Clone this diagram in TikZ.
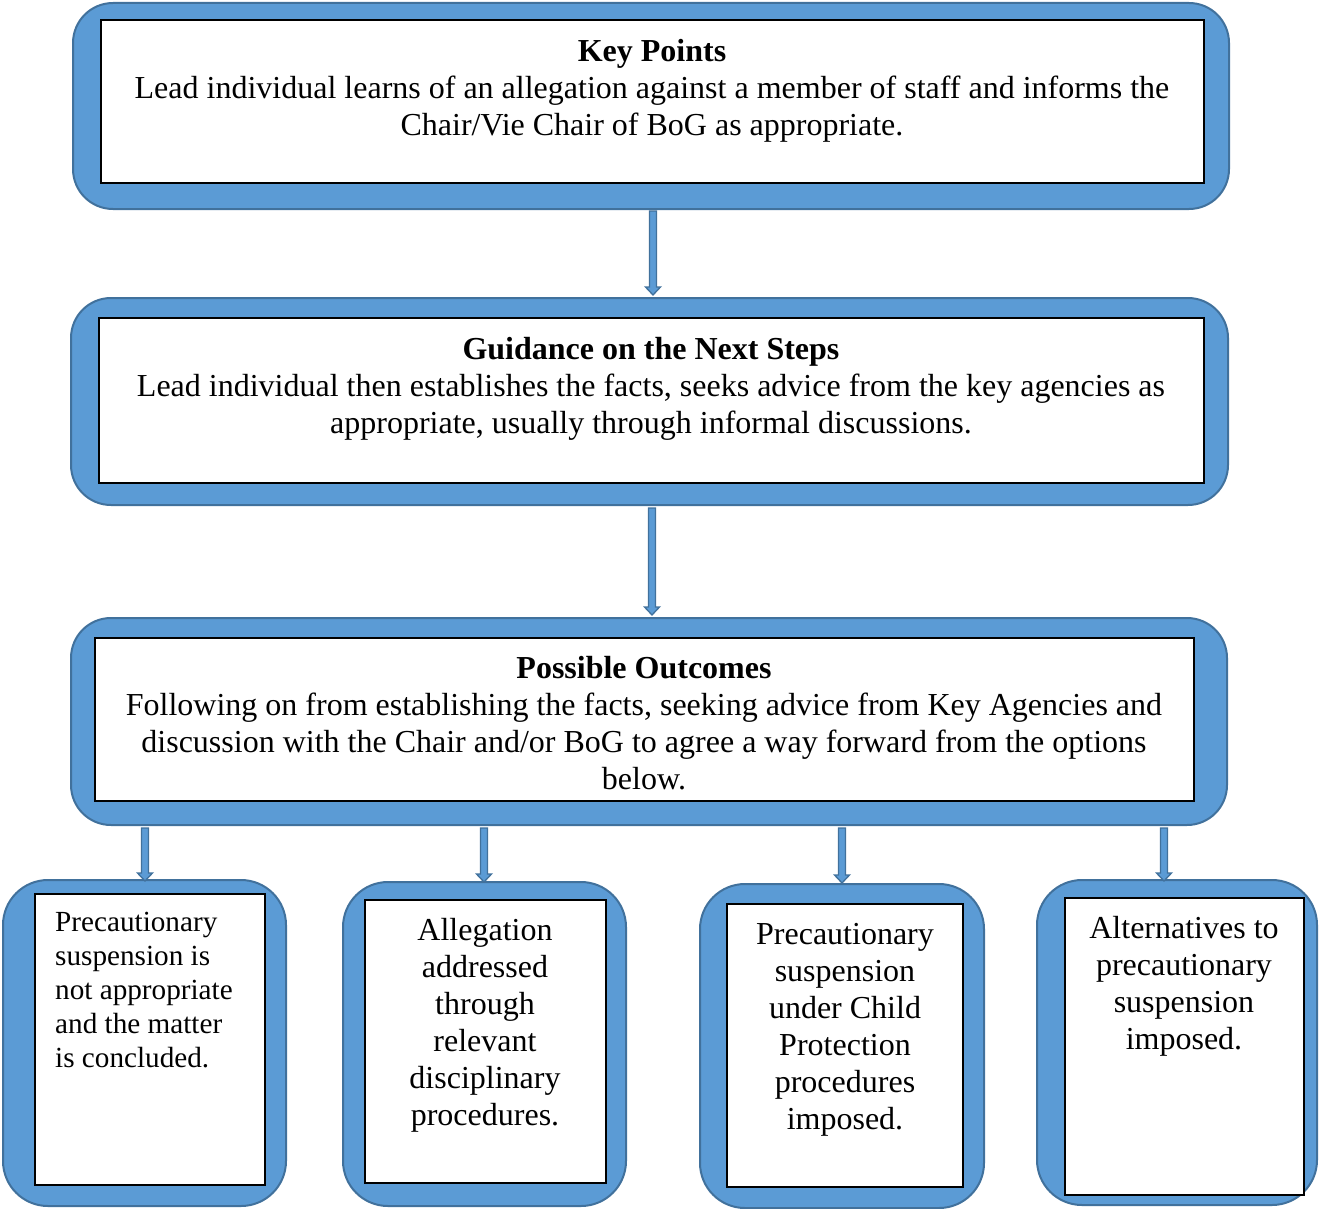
\documentclass[tikz,border=0pt]{standalone}
\usepackage{fontspec}
\setmainfont{Liberation Serif}
\usetikzlibrary{calc}
\definecolor{boxfill}{HTML}{5B9BD5}
\definecolor{boxline}{HTML}{41719C}
\tikzset{
  outerbox/.style={draw=boxline, fill=boxfill, line width=2pt, rounded corners=#1, inner sep=0pt},
  outerbox/.default=40pt,
  innerbox/.style={draw=black, fill=white, line width=1.2pt, inner sep=0pt},
  bigtext/.style={font=\fontsize{32}{37}\selectfont, align=center, anchor=north, inner sep=0pt},
  smalltext/.style={font=\fontsize{29.2}{34}\selectfont, align=left, anchor=north west, inner sep=0pt},
  fatarr/.style={draw=boxline, fill=boxfill, line width=1.3pt, line join=miter},
}
\newcommand\fatarrow[2]{%
  \draw[fatarr] ($(#1)+(-3.5,0)$) -- ($(#2)+(-3.5,-8)$) -- ($(#2)+(-7.5,-8)$) -- (#2)
    -- ($(#2)+(7.5,-8)$) -- ($(#2)+(3.5,-8)$) -- ($(#1)+(3.5,0)$) -- cycle;}
\begin{document}
\begin{tikzpicture}[x=1pt, y=-1pt]
\useasboundingbox (0,0) rectangle (1319,1209);

% top box
\node[outerbox, minimum width=1156pt, minimum height=206pt] (k) at (651,106) {};
\node[innerbox, minimum width=1103pt, minimum height=163pt] (ki) at (652.5,101.5) {};
\node[bigtext] (kt) at (652,35) {\strut\textbf{Key Points}\\
Lead individual learns of an allegation against a member of staff and informs the\\
Chair/Vie Chair of BoG as appropriate.};

% second box
\node[outerbox, minimum width=1157pt, minimum height=207pt] (g) at (649.5,401.5) {};
\node[innerbox, minimum width=1105pt, minimum height=165pt] (gi) at (651.5,400.5) {};
\node[bigtext] (gt) at (651,333.7) {\strut\textbf{Guidance on the Next Steps}\\
Lead individual then establishes the facts, seeks advice from the key agencies as\\
appropriate, usually through informal discussions.};

% third box
\node[outerbox, minimum width=1156pt, minimum height=207pt] (p) at (649,721.5) {};
\node[innerbox, minimum width=1099pt, minimum height=163pt] (pi) at (644.5,719.5) {};
\node[bigtext] (pt) at (644,652.7) {\strut\textbf{Possible Outcomes}\\
Following on from establishing the facts, seeking advice from Key Agencies and\\
discussion with the Chair and/or BoG to agree a way forward from the options\\
below.};

% bottom boxes
\node[outerbox=45pt, minimum width=283pt, minimum height=326pt] (b1) at (144.5,1043) {};
\node[innerbox, minimum width=230pt, minimum height=291pt] (b1i) at (150,1039.5) {};
\node[smalltext] (b1t) at (55,907.5) {\strut Precautionary\\ suspension is\\ not appropriate\\ and the matter\\ is concluded.};

\node[outerbox=45pt, minimum width=283pt, minimum height=324pt] (b2) at (484.5,1044) {};
\node[innerbox, minimum width=241pt, minimum height=283pt] (b2i) at (485.5,1041.5) {};
\node[bigtext] (b2t) at (485,914.7) {\strut Allegation\\ addressed\\ through\\ relevant\\ disciplinary\\ procedures.};

\node[outerbox=45pt, minimum width=284pt, minimum height=324pt] (b3) at (842,1046) {};
\node[innerbox, minimum width=236pt, minimum height=283pt] (b3i) at (845,1045.5) {};
\node[bigtext] (b3t) at (845,918.7) {\strut Precautionary\\ suspension\\ under Child\\ Protection\\ procedures\\ imposed.};

\node[outerbox=45pt, minimum width=280pt, minimum height=325pt] (b4) at (1177,1042.5) {};
\node[innerbox, minimum width=239pt, minimum height=297pt] (b4i) at (1184.5,1046.5) {};
\node[bigtext] (b4t) at (1184,912.7) {\strut Alternatives to\\ precautionary\\ suspension\\ imposed.};

% arrows
\coordinate (x1) at (653,0);
\coordinate (x2) at (652,0);
\coordinate (x3) at (145,0);
\coordinate (x4) at (484,0);
\coordinate (x5) at (842,0);
\coordinate (x6) at (1164,0);
\coordinate (a1s) at ($(x1 |- k.south)+(0,1)$);
\coordinate (a1e) at ($(x1 |- g.north)+(0,-2)$);
\coordinate (a2s) at ($(x2 |- g.south)+(0,2)$);
\coordinate (a2e) at ($(x2 |- p.north)+(0,-2)$);
\coordinate (a3s) at ($(x3 |- p.south)+(0,2)$);
\coordinate (a3e) at ($(x3 |- b1.north)+(0,2)$);
\coordinate (a4s) at ($(x4 |- p.south)+(0,2)$);
\coordinate (a4e) at ($(x4 |- b2.north)+(0,1)$);
\coordinate (a5s) at ($(x5 |- p.south)+(0,2)$);
\coordinate (a5e) at ($(x5 |- b3.north)+(0,0)$);
\coordinate (a6s) at ($(x6 |- p.south)+(0,2)$);
\coordinate (a6e) at ($(x6 |- b4.north)+(0,2)$);
\fatarrow{a1s}{a1e}
\fatarrow{a2s}{a2e}
\fatarrow{a3s}{a3e}
\fatarrow{a4s}{a4e}
\fatarrow{a5s}{a5e}
\fatarrow{a6s}{a6e}
\end{tikzpicture}
\end{document}
